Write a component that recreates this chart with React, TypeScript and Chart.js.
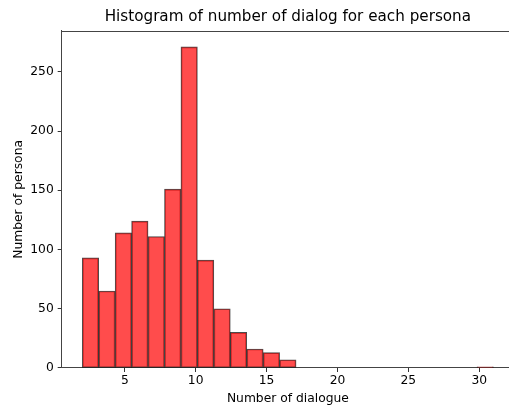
import React, { useEffect, useRef } from "react";
import { Chart, registerables } from "chart.js";

Chart.register(...registerables);

const chartTitle = "Histogram of number of dialog for each persona";
const xAxisLabel = "Number of dialogue";
const yAxisLabel = "Number of persona";

const binEdges = [
  2, 3.16, 4.32, 5.48, 6.64, 7.8, 8.96, 10.12, 11.28, 12.44, 13.6, 14.76, 15.92,
  17.08, 18.24, 19.4, 20.56, 21.72, 22.88, 24.04, 25.2, 26.36, 27.52, 28.68, 29.84, 31,
];
const personaCounts = [
  93, 65, 114, 124, 111, 151, 271, 91, 50, 30, 16, 13, 7, 0, 0, 0, 0, 0, 0, 0, 0, 0, 0, 0, 1,
];
const xTicks = [5, 10, 15, 20, 25, 30];
const yTicks = [0, 50, 100, 150, 200, 250];
const xRange = [0.55, 32.45];
const yRange = [0, 284.55];

const FONT = "'DejaVu Sans', sans-serif";

const topSpine = {
  id: "topSpine",
  afterDraw(chart: any) {
    const { ctx, chartArea } = chart;
    ctx.save();
    ctx.strokeStyle = "#444";
    ctx.lineWidth = 1;
    ctx.beginPath();
    ctx.moveTo(chartArea.left, Math.round(chartArea.top) + 0.5);
    ctx.lineTo(chartArea.right, Math.round(chartArea.top) + 0.5);
    ctx.moveTo(Math.round(chartArea.right) + 0.5, chartArea.top);
    ctx.lineTo(Math.round(chartArea.right) + 0.5, chartArea.bottom);
    ctx.stroke();
    ctx.restore();
  },
};

export default function App() {
  const ref = useRef<HTMLCanvasElement | null>(null);

  useEffect(() => {
    if (!ref.current) return;
    const data = personaCounts.map((c, i) => ({
      x: (binEdges[i] + binEdges[i + 1]) / 2,
      y: c,
    }));
    const chart = new Chart(ref.current, {
      type: "bar",
      data: {
        datasets: [
          {
            data,
            backgroundColor: "rgba(255,0,0,0.7)",
            borderColor: "rgba(0,0,0,0.7)",
            borderWidth: 1,
            borderSkipped: false,
            barPercentage: 1,
            categoryPercentage: 1,
          },
        ],
      },
      options: {
        responsive: false,
        animation: false,
        devicePixelRatio: 1,
        layout: { padding: { left: 0, right: 3, top: 0, bottom: 0 } },
        plugins: {
          legend: { display: false },
          tooltip: { enabled: false },
          title: {
            display: true,
            fullSize: false,
            text: chartTitle,
            color: "#000",
            font: { family: FONT, size: 15.2, weight: "normal", lineHeight: 1.2 },
            padding: { top: 8, bottom: 4.6 },
          },
        },
        scales: {
          x: {
            type: "linear",
            min: xRange[0],
            max: xRange[1],
            offset: false,
            afterBuildTicks: (s: any) => {
              s.ticks = xTicks.map((v) => ({ value: v }));
            },
            afterFit: (s: any) => {
              s.height = 39;
            },
            grid: {
              offset: false,
              drawOnChartArea: false,
              drawTicks: true,
              tickLength: 4,
              tickWidth: 1,
              tickColor: "#333",
            },
            border: { display: true, color: "#444", width: 1 },
            ticks: {
              color: "#000",
              padding: 1,
              maxRotation: 0,
              font: { family: FONT, size: 12.3 },
            },
            title: {
              display: true,
              text: xAxisLabel,
              color: "#000",
              font: { family: FONT, size: 12.3 },
              padding: { top: 0, bottom: 1 },
            },
          },
          y: {
            type: "linear",
            min: yRange[0],
            max: yRange[1],
            afterBuildTicks: (s: any) => {
              s.ticks = yTicks.map((v) => ({ value: v }));
            },
            afterFit: (s: any) => {
              s.width = 61.7;
            },
            grid: {
              offset: false,
              drawOnChartArea: false,
              drawTicks: true,
              tickLength: 4,
              tickWidth: 1,
              tickColor: "#333",
            },
            border: { display: true, color: "#444", width: 1 },
            ticks: {
              color: "#000",
              padding: 4,
              font: { family: FONT, size: 12.3 },
            },
            title: {
              display: true,
              text: yAxisLabel,
              color: "#000",
              font: { family: FONT, size: 12.3 },
              padding: { top: 11, bottom: 0 },
            },
          },
        },
      },
      plugins: [topSpine],
    });
    return () => chart.destroy();
  }, []);

  return (
    <div
      style={{
        position: "absolute",
        left: 0,
        top: 0,
        width: 509,
        height: 407,
        overflow: "hidden",
        background: "#fff",
      }}
    >
      <canvas ref={ref} width={517} height={407} style={{ display: "block" }} />
    </div>
  );
}
